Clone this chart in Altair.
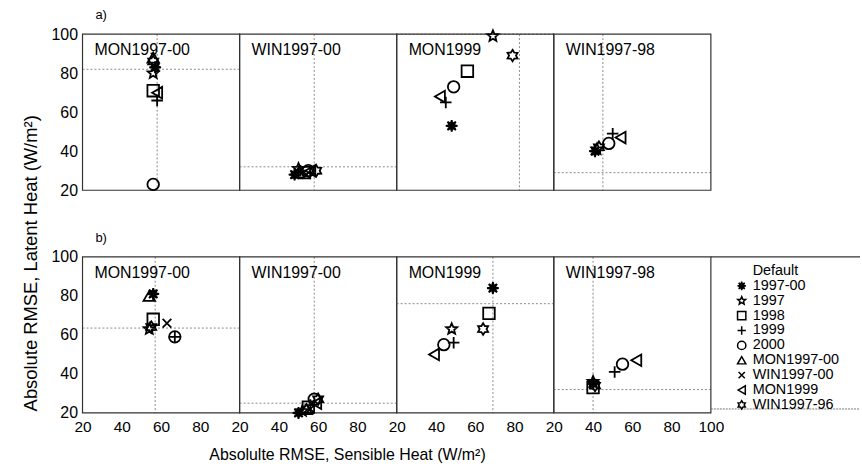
import math
import altair as alt
import pandas as pd

FONT = "Liberation Sans"

series = ["1997-00", "1997", "1998", "1999", "2000",
          "MON1997-00", "WIN1997-00", "MON1999", "WIN1997-96"]
panels = ["MON1997-00", "WIN1997-00", "MON1999", "WIN1997-98"]

# ---- row a) values per panel (aligned with `series`, None = not plotted)
a_mon9700_x = [57, 56, 56, 58, 56, 56, None, 58, 56]
a_mon9700_y = [83, 80, 71, 66, 23, 88, None, 70, 86]
a_win9700_x = [48, 50, 53, 51, 55, 50, 54, 56, 59]
a_win9700_y = [28, 31, 29, 30, 30, 29, 28, 30, 30]
a_mon99_x = [48, 69, 56, 45, 49, None, None, 42, 79]
a_mon99_y = [53, 99, 81, 65, 73, None, None, 68, 89]
a_win9798_x = [41, 42, None, 50, 48, None, None, 54, 43]
a_win9798_y = [40, 41, None, 49, 44, None, None, 47, 42]

# ---- row b) values per panel
b_mon9700_x = [56, 54, 56, 67, 67, 54, 63, None, 55]
b_mon9700_y = [81, 63, 68, 59, 59, 80, 66, None, 64]
b_win9700_x = [50, 52, 55, 56, 58, 54, 56, 59, 60]
b_win9700_y = [20, 21, 23, 24, 27, 22, 22, 25, 27]
b_mon99_x = [69, 48, 67, 49, 44, None, None, 39, 64]
b_mon99_y = [84, 63, 71, 56, 55, None, None, 50, 63]
b_win9798_x = [40, 40, 40, 51, 55, None, None, 62, 41]
b_win9798_y = [35, 36, 33, 41, 45, None, None, 47, 34]

# ---- "Default" reference crosshair per panel
a_ref_x = [58, 58, 82.5, 45]
a_ref_y = [82, 32, 100, 29]
b_ref_x = [57, 58, 69, 40]
b_ref_y = [63.5, 25, 76, 32]

x_ticks_mid = [20, 40, 60, 80]
x_ticks_last = [20, 40, 60, 80, 100]
y_ticks = [20, 40, 60, 80, 100]


# ---- marker shapes (SVG paths in unit square)
def star_path(n, r_out, r_in, rot=-90):
    pts = []
    for k in range(2 * n):
        r = r_out if k % 2 == 0 else r_in
        a = math.radians(rot + k * 180 / n)
        pts.append(f"{r*math.cos(a):.3f},{r*math.sin(a):.3f}")
    return "M" + "L".join(pts) + "Z"


shape_range = [
    star_path(8, 1.0, 0.38),               # 1997-00 asterisk (filled)
    star_path(5, 1.0, 0.45),               # 1997 star
    "square",                              # 1998
    "M-1,0L1,0M0,-1L0,1",                  # 1999 plus
    "circle",                              # 2000
    "triangle-up",                         # MON1997-00
    "M-0.75,-0.75L0.75,0.75M-0.75,0.75L0.75,-0.75",  # WIN1997-00 x
    "triangle-left",                       # MON1999
    star_path(6, 1.0, 0.6),                # WIN1997-96 hexagram
]
fill_range = ["black"] + ["transparent"] * 8

shape_enc = alt.Shape("series:N", scale=alt.Scale(domain=series, range=shape_range), legend=None)
fill_enc = alt.Fill("series:N", scale=alt.Scale(domain=series, range=fill_range), legend=None)

PW, PH = 158, 157
NOFRAME = alt.ViewBackground(stroke="transparent")

LAB = dict(labelFont=FONT, labelColor="black",
           titleFont=FONT, titleColor="black", titleFontWeight="normal",
           grid=False, ticks=False, domain=False, labelFlush=False)


def make_df(xs, ys):
    rows = [(s, x, y) for s, x, y in zip(series, xs, ys) if x is not None]
    return pd.DataFrame(rows, columns=["series", "x", "y"])


def panel(i, name, xs, ys, rx, ry, bottom, label):
    xscale = alt.Scale(domain=[20, 100], nice=False, zero=False)
    yscale = alt.Scale(domain=[20, 100], nice=False, zero=False)
    if bottom:
        xaxis = alt.Axis(values=x_ticks_last if i == 3 else x_ticks_mid,
                         labelPadding=7, labelFontSize=15.5,
                         title="Absolulte RMSE, Sensible Heat (W/m²)" if i == 1 else None,
                         titleX=108, titlePadding=11, titleFontSize=16, **LAB)
    else:
        xaxis = None
    if i == 0:
        yaxis = alt.Axis(values=y_ticks, labelPadding=5, labelFontSize=16,
                         title="Absolute RMSE, Latent Heat (W/m²)" if bottom else None,
                         titleY=6, titlePadding=11, titleFontSize=18.5, **LAB)
    else:
        yaxis = None
    X = alt.X("x:Q", scale=xscale, axis=xaxis)
    Y = alt.Y("y:Q", scale=yscale, axis=yaxis)

    frame = alt.Chart(pd.DataFrame({"k": [0]})).mark_rect(
        fill="transparent", stroke="#333", strokeWidth=1.2
    ).encode(x=alt.value(0), x2=alt.value(PW), y=alt.value(0), y2=alt.value(PH))
    vline = alt.Chart(pd.DataFrame({"x": [rx]})).mark_rule(
        color="#8a8a8a", strokeDash=[2, 2], strokeWidth=1).encode(x=X)
    hline = alt.Chart(pd.DataFrame({"y": [ry]})).mark_rule(
        color="#8a8a8a", strokeDash=[2, 2], strokeWidth=1).encode(y=Y)
    pts = alt.Chart(make_df(xs, ys)).mark_point(
        filled=False, size=135, strokeWidth=1.8, color="black", opacity=1
    ).encode(x=X, y=Y, shape=shape_enc, fill=fill_enc)
    title = alt.Chart(pd.DataFrame({"t": [name]})).mark_text(
        align="left", baseline="middle", fontSize=16, font=FONT, color="black"
    ).encode(x=alt.value(12), y=alt.value(16), text="t:N")
    layers = [vline, hline, frame, pts, title]
    if label:
        lab = alt.Chart(pd.DataFrame({"t": [label]})).mark_text(
            align="left", baseline="middle", fontSize=13, font=FONT, color="black"
        ).encode(x=alt.value(13), y=alt.value(-19), text="t:N")
        layers.append(lab)
    return alt.layer(*layers).properties(width=PW, height=PH, view=NOFRAME)


a_xs = [a_mon9700_x, a_win9700_x, a_mon99_x, a_win9798_x]
a_ys = [a_mon9700_y, a_win9700_y, a_mon99_y, a_win9798_y]
b_xs = [b_mon9700_x, b_win9700_x, b_mon99_x, b_win9798_x]
b_ys = [b_mon9700_y, b_win9700_y, b_mon99_y, b_win9798_y]

row_a = [panel(i, panels[i], a_xs[i], a_ys[i], a_ref_x[i], a_ref_y[i], False,
               "a)" if i == 0 else None) for i in range(4)]
row_b = [panel(i, panels[i], b_xs[i], b_ys[i], b_ref_x[i], b_ref_y[i], True,
               "b)" if i == 0 else None) for i in range(4)]

# ---- empty cell (top-right of the grid)
blank = alt.Chart(pd.DataFrame({"k": [0]})).mark_point(opacity=0).encode(
    x=alt.value(0), y=alt.value(0)
).properties(width=150, height=PH, view=NOFRAME)

# ---- legend panel
leg_df = pd.DataFrame({"series": series, "idx": list(range(len(series)))})
leg_y = alt.Y("idx:Q", scale=alt.Scale(domain=[-1.95, 8.54], reverse=True, nice=False, zero=False), axis=None)
leg_pts = alt.Chart(leg_df).mark_point(
    filled=False, size=70, strokeWidth=1.5, color="black", opacity=1
).encode(x=alt.value(31), y=leg_y, shape=shape_enc, fill=fill_enc)
leg_txt = alt.Chart(leg_df).mark_text(
    align="left", baseline="middle", fontSize=14.5, font=FONT, color="black"
).encode(x=alt.value(42), y=leg_y, text="series:N")
leg_title = alt.Chart(pd.DataFrame({"t": ["Default"]})).mark_text(
    align="left", baseline="middle", fontSize=14.5, font=FONT, color="black"
).encode(x=alt.value(42), y=alt.value(14), text="t:N")
leg_top = alt.Chart(pd.DataFrame({"k": [0]})).mark_rule(color="#333", strokeWidth=1.2).encode(
    x=alt.value(0), x2=alt.value(150), y=alt.value(0))
leg_bot = alt.Chart(pd.DataFrame({"k": [0]})).mark_rule(
    color="#777", strokeWidth=1, strokeDash=[2, 1]).encode(
    x=alt.value(0), x2=alt.value(150), y=alt.value(153))
legend = alt.layer(leg_top, leg_bot, leg_pts, leg_txt, leg_title).properties(
    width=150, height=PH, view=NOFRAME)

chart = alt.concat(
    *row_a, blank, *row_b, legend,
    columns=5, spacing={"row": 67, "column": 0}, bounds="flush"
).properties(
    padding={"left": 20, "top": 7, "right": 0, "bottom": 0}
).configure_view(
    stroke="transparent"
).configure_axis(
    grid=False, ticks=False, domain=False,
    labelFont=FONT, labelFontSize=15, labelColor="black",
    titleFont=FONT, titleColor="black", titleFontWeight="normal"
).configure(background="white")

chart.save("out.html", embed_options={"renderer": "svg", "actions": False})
